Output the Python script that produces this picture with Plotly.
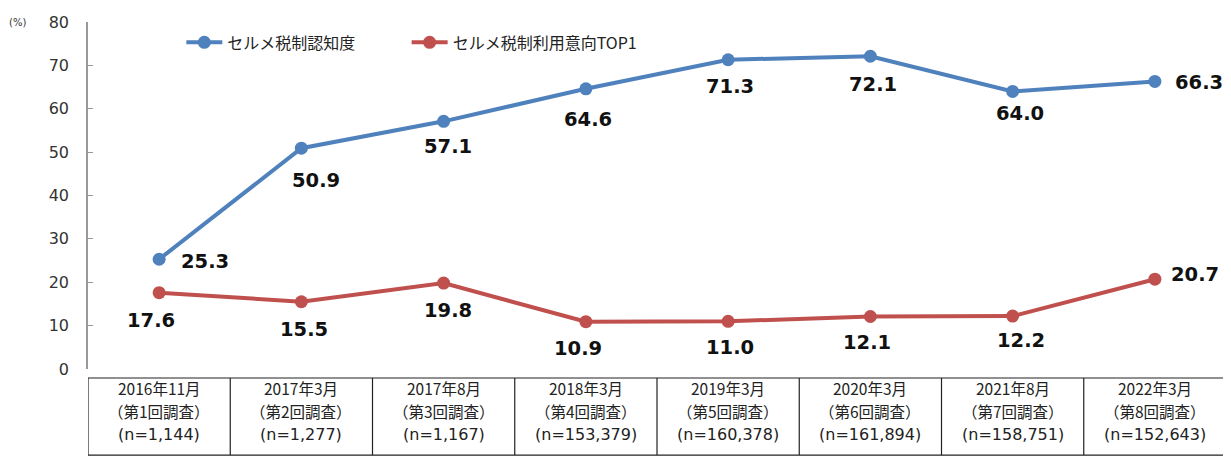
import plotly.graph_objects as go

periods = ["2016年11月", "2017年3月", "2017年8月", "2018年3月", "2019年3月", "2020年3月", "2021年8月", "2022年3月"]
rounds = ["（第1回調査）", "（第2回調査）", "（第3回調査）", "（第4回調査）", "（第5回調査）", "（第6回調査）", "（第7回調査）", "（第8回調査）"]
samples = ["(n=1,144)", "(n=1,277)", "(n=1,167)", "(n=153,379)", "(n=160,378)", "(n=161,894)", "(n=158,751)", "(n=152,643)"]
awareness = [25.3, 50.9, 57.1, 64.6, 71.3, 72.1, 64.0, 66.3]
intent_top1 = [17.6, 15.5, 19.8, 10.9, 11.0, 12.1, 12.2, 20.7]
series_names = ["セルメ税制認知度", "セルメ税制利用意向TOP1"]

# label offsets in pixels (style only)
blue_label_shift = [(46, -2), (15, -32), (4, -25), (2, -31), (2, -27), (3, -28), (7, -22), (44, -1)]
red_label_shift = [(-8, -28), (3, -28), (4, -27), (-8, -27), (2, -26), (-3, -26), (8, -24), (40, 5)]

BLUE = "#4F81BD"
RED = "#C0504D"
NUM_FONT = "DejaVu Sans, Verdana, sans-serif"
JP_FONT = "Noto Sans CJK JP, sans-serif"

xs = list(range(len(periods)))
fig = go.Figure()
for vals, name, col, lg in [(awareness, series_names[0], BLUE, "legend"),
                            (intent_top1, series_names[1], RED, "legend2")]:
    fig.add_trace(go.Scatter(
        x=xs, y=vals, mode="lines+markers", name=name, legend=lg,
        line=dict(color=col, width=4),
        marker=dict(color=col, size=13),
    ))

# data labels
for vals, shifts in [(awareness, blue_label_shift), (intent_top1, red_label_shift)]:
    for i, v in enumerate(vals):
        dx, dy = shifts[i]
        fig.add_annotation(x=i, y=v, text=f"<b>{v:.1f}</b>", showarrow=False,
                           xshift=dx, yshift=dy, xanchor="center", yanchor="middle",
                           font=dict(family=NUM_FONT, size=19.5, color="#111111"))

# "(%)" unit label
fig.add_annotation(xref="paper", yref="paper", x=-0.062, y=1.0, text="(%)", showarrow=False,
                   xanchor="center", yanchor="middle",
                   font=dict(family=NUM_FONT, size=10, color="#333333"))

# category table below the plot
y_top, y_bot = -0.026, -0.248
row_y = [-0.054, -0.120, -0.189]
n = len(periods)
shapes = []
border = dict(color="#222222", width=1.2)
shapes.append(dict(type="line", xref="x", yref="paper", x0=-0.5, x1=n - 0.5, y0=y_top, y1=y_top, line=border))
shapes.append(dict(type="line", xref="x", yref="paper", x0=-0.5, x1=n - 0.5, y0=y_bot, y1=y_bot, line=border))
for k in range(n + 1):
    shapes.append(dict(type="line", xref="x", yref="paper", x0=k - 0.5, x1=k - 0.5, y0=y_top, y1=y_bot,
                       line=border))
for i in range(n):
    for txt, yy, fam in zip([periods[i], rounds[i], samples[i]], row_y, [JP_FONT, JP_FONT, NUM_FONT]):
        fig.add_annotation(x=i, y=yy, xref="x", yref="paper", text=txt, showarrow=False,
                           xanchor="center", yanchor="middle",
                           font=dict(family=fam, size=15.5 if fam == JP_FONT else 16, color="#222222"))

leg_common = dict(orientation="h", y=0.99, xanchor="left", yanchor="top",
                  font=dict(family=JP_FONT, size=16, color="#222222"),
                  itemwidth=36, bgcolor="rgba(0,0,0,0)")
fig.update_layout(
    width=1223, height=451,
    margin=dict(l=80, r=5, t=10, b=90),
    paper_bgcolor="white", plot_bgcolor="white",
    showlegend=True,
    legend=dict(x=0.082, **leg_common),
    legend2=dict(x=0.28, **leg_common),
    shapes=shapes,
)
fig.update_xaxes(range=[-0.5, n - 0.5], showticklabels=False, showgrid=False, zeroline=False,
                 showline=False, ticks="")
fig.update_yaxes(range=[0, 80], dtick=10, showgrid=False, zeroline=False,
                 showline=True, linecolor="#999999", linewidth=1.5,
                 ticks="inside", ticklen=5, tickcolor="#999999", ticklabelstandoff=14,
                 tickfont=dict(family=NUM_FONT, size=16, color="#333333"))

fig.write_html("out.html")
